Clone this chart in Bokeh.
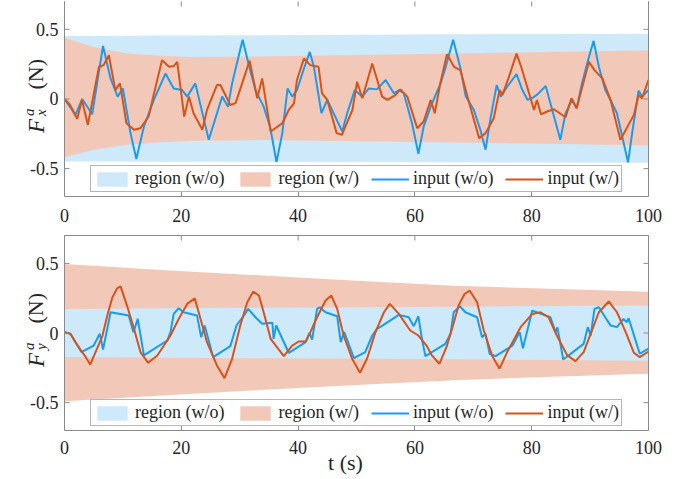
import math
from bokeh.plotting import figure
from bokeh.models import Range1d, FixedTicker, Legend, LegendItem
from bokeh.layouts import column
from bokeh.embed import file_html
from bokeh.resources import INLINE
from bokeh.core.properties import value

# ---------------- data ----------------
x_lim = (0, 100)
y_lim = (-0.7, 0.7)
x_ticks = [0, 20, 40, 60, 80, 100]
x_tick_labels = ["0", "20", "40", "60", "80", "100"]
y_ticks = [-0.5, 0, 0.5]
y_tick_labels = ["-0.5", "0", "0.5"]
legend_labels = ["region (w/o)", "region (w/)", "input (w/o)", "input (w/)"]
x_label = "t (s)"

# top panel (F_x) regions
top_reg_t = [0, 5, 10.7, 16.4, 22.2, 33.6, 50, 67, 83, 100]
top_wo_up = [0.452, 0.453, 0.454, 0.455, 0.456, 0.458, 0.461, 0.464, 0.467, 0.469]
top_wo_lo = [-0.448, -0.449, -0.449, -0.450, -0.450, -0.451, -0.453, -0.455, -0.456, -0.458]
top_w_up = [0.44, 0.374, 0.326, 0.31, 0.302, 0.305, 0.315, 0.326, 0.338, 0.35]
top_w_lo = [-0.419, -0.364, -0.329, -0.31, -0.30, -0.295, -0.303, -0.312, -0.322, -0.333]

# top panel inputs
top_t_wo = [0, 1.88, 3.03, 4.74, 6.6, 7.88, 9.1, 10.0, 11.3, 12.3, 13.6, 15.3, 17.3, 18.7,
            20.15, 21.0, 22.4, 24.7, 27.0, 28.0, 28.7, 30.5, 31.85, 32.7, 34.1, 35.2, 36.3,
            37.3, 38.2, 39.0, 39.8, 41.1, 42.0, 42.7, 44.0, 45.0, 47.55, 48.4, 49.7, 51.0,
            52.1, 53.5, 55.0, 56.4, 57.3, 58.1, 59.5, 60.6, 61.5, 62.7, 64.4, 65.2, 66.55,
            67.8, 68.7, 70.1, 71.2, 72.1, 72.9, 74.0, 74.7, 75.8, 77.4, 78.4, 79.3, 80.2,
            81.0, 82.4, 84.9, 85.8, 86.9, 87.7, 88.6, 89.8, 90.6, 91.5, 92.6, 93.5, 94.6,
            96.5, 97.2, 98.3, 98.9, 100]
top_v_wo = [0.0, -0.114, 0.0, -0.11, 0.381, 0.148, 0.017, 0.076, -0.245, -0.431, -0.198,
            -0.007, 0.183, 0.076, 0.064, 0.017, 0.112, -0.293, 0.017, -0.055, 0.112, 0.426,
            0.195, 0.064, -0.055, -0.198, -0.452, -0.245, 0.076, 0.017, 0.064, 0.231, 0.338,
            0.231, -0.102, -0.007, -0.233, -0.102, 0.064, 0.017, 0.076, 0.069, 0.136, 0.041,
            0.064, 0.041, -0.174, -0.393, -0.198, -0.055, 0.112, 0.219, 0.426, 0.22, 0.02,
            -0.079, -0.221, -0.364, -0.15, 0.1, 0.017, 0.088, 0.179, 0.064, -0.007, 0.01,
            0.033, 0.093, -0.293, -0.102, -0.007, -0.067, 0.112, 0.302, 0.417, 0.231, 0.064,
            -0.007, -0.102, -0.455, -0.245, 0.059, 0.017, 0.064]
top_t_w = [0, 0.9, 2.17, 3.0, 4.0, 5.9, 6.7, 7.6, 8.7, 9.5, 10.6, 11.9, 13.0, 14.4, 15.6,
           16.7, 17.9, 18.7, 19.3, 20.5, 21.3, 22.1, 23.6, 24.4, 26.1, 26.7, 28.4, 29.3,
           31.7, 33.0, 33.85, 35.3, 37.3, 38.4, 39.3, 39.8, 41.0, 42.1, 43.5, 44.1, 45.0,
           46.6, 47.5, 49.3, 50.1, 51.0, 52.7, 54.4, 55.3, 56.7, 57.5, 58.7, 60.4, 61.5,
           62.7, 63.4, 64.4, 65.5, 66.7, 67.8, 69.0, 71.0, 72.1, 73.5, 74.5, 75.0, 76.1,
           77.4, 78.2, 80.4, 80.9, 81.6, 82.65, 83.8, 85.8, 86.8, 87.7, 89.8, 90.75, 92.1,
           93.5, 95.2, 97.5, 98.3, 98.9, 100]
top_v_w = [0.0, -0.04, -0.143, -0.007, -0.186, 0.231, 0.243, 0.314, 0.064, 0.112, -0.174,
           -0.221, -0.21, -0.126, 0.088, 0.279, 0.231, 0.236, 0.267, -0.126, 0.017, -0.102,
           -0.221, -0.079, 0.1, 0.1, -0.043, -0.03, 0.275, 0.005, 0.148, -0.233, -0.174,
           -0.079, -0.031, 0.136, 0.291, 0.243, 0.231, 0.041, -0.007, -0.245, -0.257,
           -0.079, 0.124, 0.005, 0.255, 0.017, -0.007, 0.029, 0.069, 0.017, -0.21, -0.162,
           -0.007, -0.102, 0.124, 0.321, 0.231, 0.207, 0.017, -0.281, -0.245, -0.138, 0.064,
           0.03, 0.159, 0.326, 0.231, -0.079, -0.007, -0.11, -0.09, -0.074, -0.131, 0.005,
           -0.067, 0.267, 0.207, 0.148, -0.007, -0.293, -0.114, 0.029, 0.005, 0.136]

# bottom panel (F_y) regions
bot_reg_t = [0, 16.7, 33.3, 50, 66.7, 83.3, 100]
bot_wo_up = [0.173, 0.177, 0.181, 0.185, 0.189, 0.193, 0.197]
bot_wo_lo = [-0.173, -0.177, -0.181, -0.185, -0.189, -0.193, -0.199]
bot_w_up = [0.496, 0.452, 0.414, 0.376, 0.34, 0.317, 0.297]
bot_w_lo = [-0.49, -0.448, -0.41, -0.374, -0.34, -0.314, -0.292]

# bottom panel inputs
bot_t_wo = [0, 1.03, 1.88, 2.9, 5.0, 6.05, 6.6, 7.9, 11.0, 11.8, 12.55, 13.6, 17.6, 18.15,
            18.7, 19.55, 20.4, 22.7, 23.4, 24.0, 25.45, 28.4, 29.45, 30.7, 31.45, 32.7,
            33.85, 35.6, 35.8, 36.25, 38.4, 41.3, 41.95, 42.4, 43.25, 43.7, 44.7, 46.7,
            47.3, 47.9, 49.55, 51.5, 52.7, 53.5, 54.3, 57.25, 58.95, 59.8, 60.6, 61.2, 61.8,
            65.2, 66.1, 66.65, 67.7, 68.65, 70.65, 71.5, 72.1, 72.8, 73.8, 76.7, 77.95,
            78.5, 80.1, 83.2, 84.1, 84.4, 85.4, 88.9, 89.6, 90.1, 90.75, 91.5, 93.5, 94.6,
            95.7, 96.3, 96.6, 98.5, 100]
bot_v_wo = [0.006, -0.006, -0.066, -0.137, -0.09, -0.006, -0.118, 0.149, 0.125, 0.006,
            0.101, -0.161, -0.054, 0.006, 0.137, 0.178, 0.149, 0.125, -0.03, 0.054, -0.173,
            -0.094, 0.054, 0.125, 0.173, 0.113, 0.066, 0.073, -0.042, 0.054, -0.142, -0.066,
            0.001, -0.047, 0.173, 0.185, 0.149, 0.12, -0.066, 0.006, -0.18, -0.137, -0.018,
            0.03, 0.049, 0.13, 0.113, 0.049, 0.12, -0.042, -0.166, -0.078, -0.006, 0.149,
            0.192, 0.149, 0.113, -0.03, -0.006, -0.149, -0.166, -0.09, 0.006, -0.109, 0.161,
            0.113, 0.006, 0.04, -0.19, -0.078, 0.042, -0.018, 0.173, 0.185, 0.054, 0.042,
            0.101, 0.078, 0.106, -0.149, -0.113]
bot_t_w = [0, 1.0, 1.9, 2.9, 3.6, 4.4, 5.5, 6.5, 7.3, 8.2, 9.0, 9.6, 10.7, 11.9, 13.0, 14.3,
           15.9, 18.15, 19.55, 21.0, 22.3, 23.3, 24.4, 26.1, 27.4, 28.7, 30.1, 31.3, 32.3,
           33.3, 34.1, 35.3, 37.55, 39.0, 40.1, 41.3, 42.1, 43.25, 44.7, 45.7, 46.7, 47.8,
           49.25, 50.6, 51.8, 53.25, 54.7, 55.7, 57.25, 59.2, 60.6, 62.0, 62.9, 64.2, 65.5,
           66.5, 67.5, 68.5, 69.4, 70.65, 71.8, 73.2, 74.5, 75.8, 78.1, 80.1, 81.5, 82.9,
           84.3, 86.1, 87.5, 88.9, 90.1, 91.5, 93.2, 94.6, 96.1, 97.5, 98.5, 100]
bot_v_w = [0.006, -0.006, -0.066, -0.13, -0.17, -0.226, -0.12, -0.02, 0.12, 0.256, 0.32,
           0.335, 0.197, 0.03, -0.137, -0.213, -0.161, -0.018, 0.101, 0.209, 0.249, 0.101,
           -0.066, -0.233, -0.324, -0.185, 0.054, 0.221, 0.297, 0.269, 0.149, -0.042, -0.166,
           -0.09, -0.061, -0.061, 0.006, 0.113, 0.233, 0.269, 0.173, -0.018, -0.185, -0.285,
           -0.185, 0.006, 0.149, 0.209, 0.137, 0.018, -0.018, -0.09, -0.161, -0.221, -0.09,
           0.05, 0.2, 0.28, 0.304, 0.221, 0.018, -0.161, -0.256, -0.137, 0.042, 0.137, 0.149,
           0.113, -0.018, -0.161, -0.202, -0.137, -0.006, 0.149, 0.226, 0.149, 0.006, -0.142,
           -0.173, -0.133]

# ---------------- style ----------------
FONT = "Liberation Serif"
AX_COLOR = "#8a8a8a"
TXT_COLOR = "#262626"
WO_FILL = "#cde9fa"
W_FILL = "#f2c9b9"
WO_LINE = "#1b9bf0"
W_LINE = "#d95319"
W_PX = 690
FRAME_LEFT = 64      # px from canvas left to the axes box
FRAME_W = 584        # px width of the axes box
PPX = FRAME_W / (x_lim[1] - x_lim[0])
TICK = 5


def make_panel(height, border_bottom, y_hi, draw_top_edge, t_reg, wo_lo, wo_up, w_lo, w_up,
               t_wo, v_wo, t_w, v_w, inner_is_wo, sub, xlabel, label_std, tick_std):
    frame_h = height - border_bottom
    y_lo = y_lim[0]
    ppu = frame_h / (y_hi - y_lo)
    x_lo = x_lim[0] - FRAME_LEFT / PPX
    x_hi = x_lim[0] + (W_PX - FRAME_LEFT) / PPX
    p = figure(width=W_PX, height=height, x_range=Range1d(x_lo, x_hi),
               y_range=Range1d(y_lo, y_hi), output_backend="svg", toolbar_location=None,
               y_axis_location=None, min_border=0, min_border_left=0, min_border_right=0,
               min_border_top=0, min_border_bottom=border_bottom)
    p.grid.visible = False
    p.outline_line_color = None
    p.background_fill_color = "white"
    p.border_fill_color = "white"

    xa = p.xaxis[0]
    xa.bounds = x_lim
    xa.ticker = FixedTicker(ticks=x_ticks)
    xa.major_label_overrides = {t: s for t, s in zip(x_ticks, x_tick_labels)}
    xa.axis_line_color = AX_COLOR
    xa.major_tick_line_color = AX_COLOR
    xa.major_tick_in = TICK
    xa.major_tick_out = 0
    xa.minor_tick_line_color = None
    xa.major_label_text_font = FONT
    xa.major_label_text_font_size = "18px"
    xa.major_label_text_color = TXT_COLOR
    xa.major_label_standoff = tick_std
    if xlabel:
        xa.axis_label = xlabel
        xa.axis_label_text_font = FONT
        xa.axis_label_text_font_size = "22px"
        xa.axis_label_text_font_style = "normal"
        xa.axis_label_text_color = TXT_COLOR
        xa.axis_label_standoff = label_std

    # regions
    if inner_is_wo:
        r_w = p.varea(x=t_reg, y1=w_lo, y2=w_up, fill_color=W_FILL)
        r_wo = p.varea(x=t_reg, y1=wo_lo, y2=wo_up, fill_color=WO_FILL)
    else:
        r_wo = p.varea(x=t_reg, y1=wo_lo, y2=wo_up, fill_color=WO_FILL)
        r_w = p.varea(x=t_reg, y1=w_lo, y2=w_up, fill_color=W_FILL)
    l_wo = p.line(t_wo, v_wo, line_color=WO_LINE, line_width=2)
    l_w = p.line(t_w, v_w, line_color=W_LINE, line_width=2)

    # box edges (left/right, and top for lower panel) and inward ticks
    p.segment(x0=[x_lim[0], x_lim[1]], y0=[y_lim[0]] * 2, x1=[x_lim[0], x_lim[1]],
              y1=[y_lim[1]] * 2, line_color=AX_COLOR, line_width=1)
    if draw_top_edge:
        p.segment(x0=[x_lim[0]], y0=[y_lim[1]], x1=[x_lim[1]], y1=[y_lim[1]],
                  line_color=AX_COLOR, line_width=1)
    dxt = TICK / PPX
    dyt = TICK / ppu
    p.segment(x0=[x_lim[0]] * len(y_ticks), y0=y_ticks, x1=[x_lim[0] + dxt] * len(y_ticks),
              y1=y_ticks, line_color=AX_COLOR)
    p.segment(x0=[x_lim[1] - dxt] * len(y_ticks), y0=y_ticks, x1=[x_lim[1]] * len(y_ticks),
              y1=y_ticks, line_color=AX_COLOR)
    p.segment(x0=x_ticks, y0=[y_lim[1]] * len(x_ticks), x1=x_ticks,
              y1=[y_lim[1] - dyt] * len(x_ticks), line_color=AX_COLOR)

    # y tick labels
    p.text(x=[x_lim[0] - 6 / PPX] * len(y_ticks), y=y_ticks, text=y_tick_labels,
           text_font=value(FONT), text_font_size=value("18px"), text_color=TXT_COLOR,
           text_align=value("right"), text_baseline=value("middle"))

    # y axis label: F (italic) with subscript and superscript 'a', then (N)
    pieces = [
        ("F", -28, 34, "italic", "23px"),
        (sub, -24, 17, "italic", "15px"),
        ("a", -36, 17, "italic", "15px"),
        ("(N)", -29.5, -9.5, "normal", "22px"),
    ]
    for txt, dx, dy, style, size in pieces:
        p.text(x=[x_lim[0] + dx / PPX], y=[-dy / ppu], text=[txt], angle=math.pi / 2,
               text_font=value(FONT), text_font_style=value(style),
               text_font_size=value(size), text_color=TXT_COLOR,
               text_align=value("left"), text_baseline=value("alphabetic"))

    items = [LegendItem(label=legend_labels[0], renderers=[r_wo]),
             LegendItem(label=legend_labels[1], renderers=[r_w]),
             LegendItem(label=legend_labels[2], renderers=[l_wo]),
             LegendItem(label=legend_labels[3], renderers=[l_w])]
    leg = Legend(items=items, orientation="horizontal", location=(90, 4),
                 padding=2, spacing=12, margin=0, glyph_width=38, glyph_height=18,
                 label_height=18, label_standoff=4,
                 label_text_font=FONT, label_text_font_size="18px",
                 label_text_color=TXT_COLOR, border_line_color="#6e6e6e",
                 border_line_width=1, background_fill_color="white",
                 background_fill_alpha=1.0)
    p.add_layout(leg)
    return p


p1 = make_panel(234, 38, 0.707, False, top_reg_t, top_wo_lo, top_wo_up, top_w_lo, top_w_up,
                top_t_wo, top_v_wo, top_t_w, top_v_w, False, "x", None, 0, 12)
p2 = make_panel(245, 49, 0.7072, True, bot_reg_t, bot_wo_lo, bot_wo_up, bot_w_lo, bot_w_up,
                bot_t_wo, bot_v_wo, bot_t_w, bot_v_w, True, "y", x_label, -7, 10)

layout = column(p1, p2, spacing=0)
open("out.html", "w").write(file_html(layout, INLINE))
